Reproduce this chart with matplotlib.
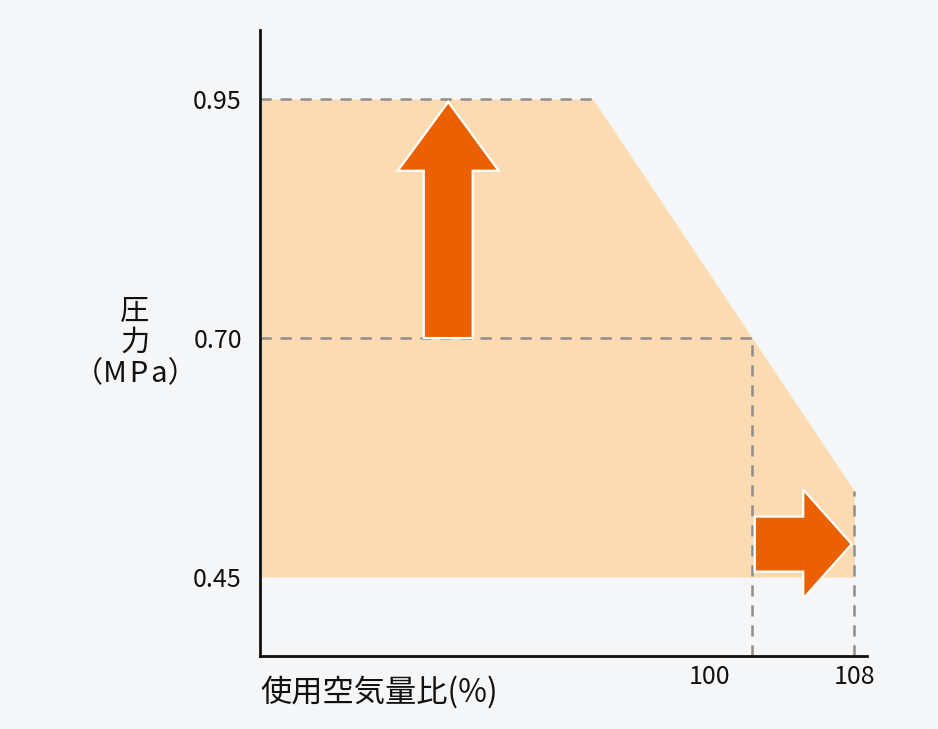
import matplotlib
matplotlib.use("Agg")
import matplotlib.pyplot as plt
from matplotlib.patches import FancyArrow
from matplotlib.transforms import ScaledTranslation

plt.rcParams["font.family"] = ["Noto Sans CJK JP", "DejaVu Sans"]

# usable range: air-flow ratio (%) vs pressure (MPa)
range_x = [61.4, 87.5, 100, 108]
range_upper = [0.95, 0.95, 0.70, 0.54]
range_lower = [0.45, 0.45, 0.45, 0.45]
y_ticks = [0.45, 0.70, 0.95]
y_tick_labels = ["0.45", "0.70", "0.95"]
x_ticks = [100, 108]
x_tick_labels = ["100", "108"]

BG = "#f5f6f8"
FILL = "#fcdbb2"
ARROW = "#eb6100"
DASH = "#8e8e8e"

fig = plt.figure(figsize=(9.38, 7.29), dpi=100, facecolor=BG)
ax = fig.add_axes([0.2772, 0.1001, 0.6471, 0.8587], facecolor=BG)
xmin, xmax = 61.4, 109.0
ymin, ymax = 0.3674, 1.0222
ax.set_xlim(xmin, xmax)
ax.set_ylim(ymin, ymax)

ax.fill_between(range_x, range_lower, range_upper, color=FILL, lw=0, zorder=1)

dash = dict(color=DASH, lw=1.8, ls=(0, (4.5, 3.5)), zorder=2)
ax.plot([xmin, range_x[1]], [range_upper[1]] * 2, **dash)
ax.plot([xmin, range_x[2]], [range_upper[2]] * 2, **dash)
ax.plot([range_x[2]] * 2, [ymin, range_upper[2]], **dash)
ax.plot([range_x[3]] * 2, [ymin, range_upper[3]], **dash)

# up arrow (pressure) and right arrow (air flow)
ax.add_patch(FancyArrow(76.16, 0.70, 0, 0.247, width=3.84, head_width=7.92,
                        head_length=0.072, length_includes_head=True,
                        fc=ARROW, ec="white", lw=1.6, zorder=3))
ax.add_patch(FancyArrow(100.2, 0.4845, 7.6, 0, width=0.0575, head_width=0.114,
                        head_length=3.8, length_includes_head=True,
                        fc=ARROW, ec="white", lw=1.6, zorder=3))

for side in ("top", "right"):
    ax.spines[side].set_visible(False)
for side in ("left", "bottom"):
    ax.spines[side].set_linewidth(2)
    ax.spines[side].set_color("#111111")

ax.set_yticks(y_ticks, labels=y_tick_labels)
ax.set_xticks(x_ticks, labels=x_tick_labels)
ax.tick_params(axis="y", length=0, pad=13, labelsize=18, labelcolor="#111111")
ax.tick_params(axis="x", length=0, pad=6, labelsize=18, labelcolor="#111111")
lbl = ax.get_xticklabels()[0]
lbl.set_transform(lbl.get_transform() + ScaledTranslation(-0.43, 0, fig.dpi_scale_trans))

ax.set_ylabel("圧\n力\n（M\u200aP\u200aa）", rotation=0, ha="center", va="center",
              fontsize=21, linespacing=1.05, color="#111111")
ax.yaxis.set_label_coords(-0.206, 0.5)
ax.set_xlabel("使用空気量比(%)", ha="left", va="center", fontsize=22.5, color="#111111")
ax.xaxis.set_label_coords(0.0, -0.0575)

fig.savefig("out.png", dpi=100, facecolor=BG)
